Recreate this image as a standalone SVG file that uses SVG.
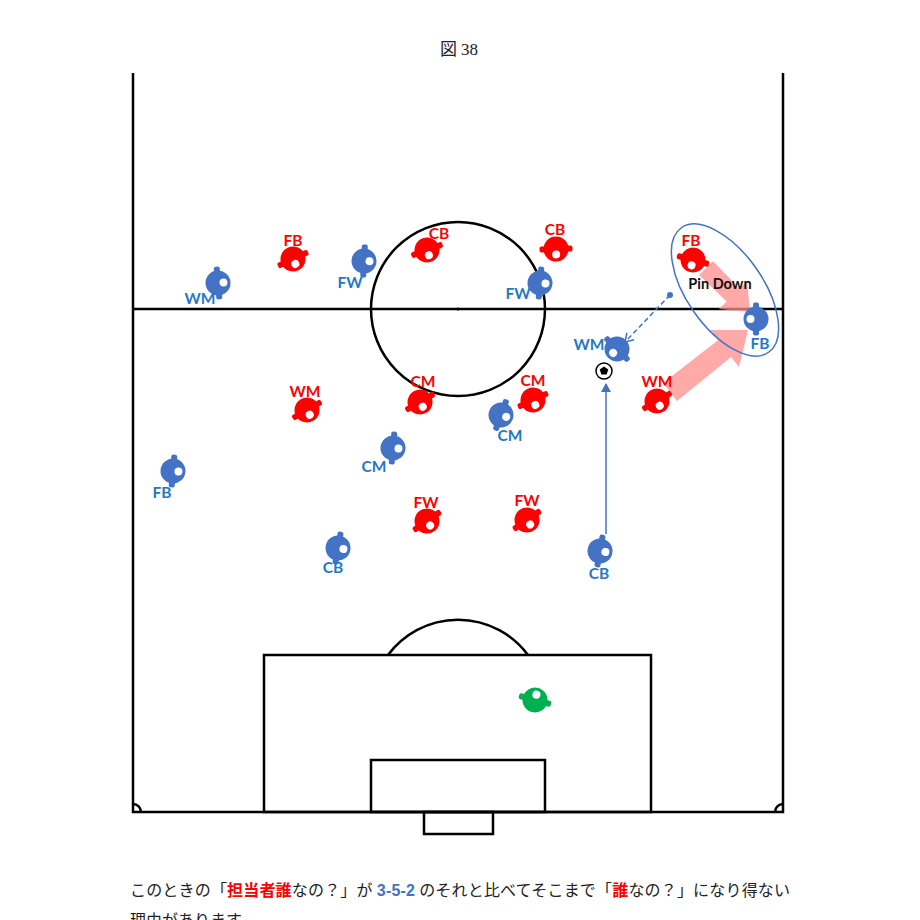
<svg xmlns="http://www.w3.org/2000/svg" xmlns:xlink="http://www.w3.org/1999/xlink" width="920" height="920" viewBox="0 0 920 920">
<style>
.line{fill:none;stroke:#000;stroke-width:2.5}
.lr{font-family:Lato,"Open Sans","Liberation Sans",sans-serif;font-weight:700;font-size:15.5px;fill:#ff0000;text-anchor:middle}
.lb{font-family:Lato,"Open Sans","Liberation Sans",sans-serif;font-weight:700;font-size:15.5px;fill:#2478c6;text-anchor:middle}
.red{fill:#ff0000}
.blue{fill:#4472c4}
.green{fill:#00b050}
.pink{fill:#ff8c8c;opacity:0.75}
.body{font-family:"Liberation Serif","Noto Sans CJK JP",serif;font-size:16px;fill:#222}
</style>
<defs>
<g id="p">
<circle r="12.5"/>
<rect x="-3" y="-16.5" width="6" height="7" rx="2"/>
<rect x="-3" y="9.5" width="6" height="7" rx="2"/>
<circle cx="5.5" cy="0" r="4" fill="#fff"/>
</g>
<marker id="ah" markerWidth="10" markerHeight="10" refX="8" refY="5" orient="auto" markerUnits="userSpaceOnUse">
<path d="M0,0 L9,5 L0,10 Z" fill="#4472c4"/>
</marker>
<marker id="av" markerWidth="12" markerHeight="12" refX="9" refY="6" orient="auto" markerUnits="userSpaceOnUse">
<path d="M1,1 L9,6 L1,11" fill="none" stroke="#4472c4" stroke-width="1.5"/>
</marker>
</defs>
<rect width="920" height="920" fill="#fff"/>
<text x="459" y="55" text-anchor="middle" style="font-family:'Liberation Serif','Noto Sans CJK JP',serif;font-size:17px;fill:#222">図 38</text>
<g id="pitch">
<path class="line" d="M133,73 V812 H783 V73"/>
<line class="line" x1="133" y1="309" x2="783" y2="309"/>
<circle class="line" cx="458" cy="309" r="87"/>
<circle cx="458" cy="309" r="1.5" fill="#000"/>
<rect class="line" x="264" y="655" width="387" height="157"/>
<rect class="line" x="371" y="760" width="174" height="52"/>
<rect class="line" x="424" y="812" width="69" height="22"/>
<path class="line" d="M388,655 A87,87 0 0 1 528,655"/>
<path class="line" stroke-width="1.5" d="M133,804 A8,8 0 0 1 141,812"/>
<path class="line" stroke-width="1.5" d="M783,804 A8,8 0 0 0 775,812"/>
</g>
<g id="connectors">
<polygon class="pink" points="663,383 718.3,340 710,330 748,330 739,367 731,357 677,401"/>
<polygon class="pink" points="713,261 739.4,288.6 747.1,280.9 750,312 718.9,309.1 726.6,301.4 699,275"/>
<ellipse cx="725" cy="290" rx="76" ry="38" transform="rotate(55 725 290)" fill="none" stroke="#4472c4" stroke-width="1.5"/>
<line x1="606" y1="534" x2="606" y2="384" stroke="#4472c4" stroke-width="1.5" marker-end="url(#ah)"/>
<circle cx="670" cy="295" r="3" fill="#4472c4"/>
<line x1="670" y1="295" x2="625" y2="342" stroke="#4472c4" stroke-width="1.5" stroke-dasharray="5,3" marker-end="url(#av)"/>
</g>
<g id="ball">
<circle cx="604" cy="371" r="8" fill="#fff" stroke="#000" stroke-width="1.5"/>
<polygon points="604,366.5 608.3,369.6 606.6,374.6 601.4,374.6 599.7,369.6" fill="#000"/>
</g>
<g id="red-players">
<g id="r-fb1"><use xlink:href="#p" class="red" transform="translate(293,259) rotate(65)"/><text class="lr" x="293" y="246">FB</text></g>
<g id="r-cb1"><use xlink:href="#p" class="red" transform="translate(427,250) rotate(70)"/><text class="lr" x="439" y="239">CB</text></g>
<g id="r-cb2"><use xlink:href="#p" class="red" transform="translate(556,249) rotate(88)"/><text class="lr" x="555" y="235">CB</text></g>
<g id="r-fb2"><use xlink:href="#p" class="red" transform="translate(693,260) rotate(105)"/><text class="lr" x="691" y="246">FB</text></g>
<g id="r-wm1"><use xlink:href="#p" class="red" transform="translate(307,410) rotate(60)"/><text class="lr" x="305" y="397">WM</text></g>
<g id="r-cm1"><use xlink:href="#p" class="red" transform="translate(420,402) rotate(60)"/><text class="lr" x="423" y="387">CM</text></g>
<g id="r-cm2"><use xlink:href="#p" class="red" transform="translate(533,400) rotate(65)"/><text class="lr" x="533" y="386">CM</text></g>
<g id="r-wm2"><use xlink:href="#p" class="red" transform="translate(657,401) rotate(60)"/><text class="lr" x="657" y="387">WM</text></g>
<g id="r-fw1"><use xlink:href="#p" class="red" transform="translate(427,521) rotate(55)"/><text class="lr" x="426" y="508">FW</text></g>
<g id="r-fw2"><use xlink:href="#p" class="red" transform="translate(527,520) rotate(55)"/><text class="lr" x="527" y="506">FW</text></g>
</g>
<g id="blue-players">
<g id="b-wm1"><use xlink:href="#p" class="blue" transform="translate(218,283) rotate(-5)"/><text class="lb" x="200" y="304">WM</text></g>
<g id="b-fw1"><use xlink:href="#p" class="blue" transform="translate(364,261) rotate(3)"/><text class="lb" x="350" y="288">FW</text></g>
<g id="b-fw2"><use xlink:href="#p" class="blue" transform="translate(540,283) rotate(5)"/><text class="lb" x="518" y="299">FW</text></g>
<g id="b-fb1"><use xlink:href="#p" class="blue" transform="translate(756,319) rotate(180)"/><text class="lb" x="760" y="349">FB</text></g>
<g id="b-wm2"><use xlink:href="#p" class="blue" transform="translate(617,349) rotate(135)"/><text class="lb" x="589" y="350">WM</text></g>
<g id="b-cm1"><use xlink:href="#p" class="blue" transform="translate(501,415) rotate(20)"/><text class="lb" x="510" y="441">CM</text></g>
<g id="b-cm2"><use xlink:href="#p" class="blue" transform="translate(393,448) rotate(5)"/><text class="lb" x="374" y="472">CM</text></g>
<g id="b-fb2"><use xlink:href="#p" class="blue" transform="translate(173,471) rotate(5)"/><text class="lb" x="162" y="498">FB</text></g>
<g id="b-cb1"><use xlink:href="#p" class="blue" transform="translate(338,548) rotate(10)"/><text class="lb" x="333" y="573">CB</text></g>
<g id="b-cb2"><use xlink:href="#p" class="blue" transform="translate(600,551) rotate(10)"/><text class="lb" x="599" y="579">CB</text></g>
</g>
<g id="gk"><use xlink:href="#p" class="green" transform="translate(535,700) rotate(-75)"/></g>
<text x="720" y="289" text-anchor="middle" style="font-family:Lato,'Open Sans','Liberation Sans',sans-serif;font-weight:700;font-size:14.5px;fill:#111">Pin Down</text>
<text class="body" x="130" y="896" textLength="660" lengthAdjust="spacing">このときの「<tspan fill="#ff0000" font-weight="700">担当者誰</tspan>なの？」が <tspan fill="#4472c4" font-weight="700" style="font-family:'Liberation Sans',sans-serif">3-5-2</tspan> のそれと比べてそこまで「<tspan fill="#ff0000" font-weight="700">誰</tspan>なの？」になり得ない</text>
<text class="body" x="130" y="926">理由があります。</text>
</svg>
